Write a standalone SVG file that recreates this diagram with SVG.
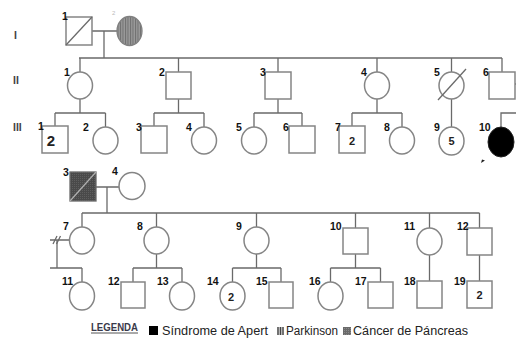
<svg xmlns="http://www.w3.org/2000/svg" width="516" height="338" viewBox="0 0 516 338">
<defs>
<pattern id="vstripe" width="2.5" height="4" patternUnits="userSpaceOnUse">
<rect width="2.5" height="4" fill="#9a9a9a"/>
<rect width="1" height="4" fill="#6e6e6e"/>
</pattern>
<pattern id="dots" width="2" height="2" patternUnits="userSpaceOnUse">
<rect width="2" height="2" fill="#4a4a4a"/>
<rect width="1" height="1" fill="#5e5e5e"/>
</pattern>
<pattern id="ldots" width="2" height="2" patternUnits="userSpaceOnUse">
<rect width="2" height="2" fill="#6a6a6a"/>
<rect width="1" height="1" fill="#8a8a8a"/>
</pattern>
</defs>
<style>
.ln{stroke:#6a6a6a;stroke-width:1.3;fill:none}
.sh{stroke:#858585;stroke-width:1.5;fill:#fff}
.num{font-family:"Liberation Sans",Arial,sans-serif;font-weight:bold;font-size:10.5px;fill:#111}
.in{font-family:"Liberation Sans",Arial,sans-serif;font-weight:bold;font-size:11px;fill:#222;text-anchor:middle}
.gen{font-family:"Liberation Sans",Arial,sans-serif;font-weight:bold;font-size:10.5px;fill:#444}
.leg{font-family:"Liberation Sans",Arial,sans-serif;font-size:12.5px;fill:#222}
</style>
<rect width="516" height="338" fill="#fff"/>

<g id="gen-labels">
<text class="gen" x="14" y="39">I</text>
<text class="gen" x="13" y="84">II</text>
<text class="gen" x="13" y="131">III</text>
</g>

<g id="connectors">
<path class="ln" d="M92,31H117 M104,31V58 M79,58H502"/>
<path class="ln" d="M80,58V72 M178.5,58V72 M278,58V72 M377,58V72 M451.5,58V72 M502,58V72"/>
<path class="ln" d="M515,84H516"/>
<path class="ln" d="M80,99V113 M55,113H105.5 M55,113V126 M105.5,113V127"/>
<path class="ln" d="M178.5,99V113 M154,113H204 M154,113V126 M204,113V127"/>
<path class="ln" d="M278,99V113 M254,113H302 M254,113V127 M302,113V126"/>
<path class="ln" d="M377,99V113 M352,113H402 M352,113V126 M402,113V127"/>
<path class="ln" d="M451.5,99V127"/>
<path class="ln" d="M501,127V113H516"/>
<path class="ln" d="M96,187H119 M107,187V213 M82,213H479.5"/>
<path class="ln" d="M82,213V227 M156.5,213V227 M256.5,213V227 M355.5,213V228 M429.5,213V228 M479.5,213V228"/>
<path class="ln" d="M50,240H69 M57,240V268 M50,268H82 M82,268V282"/>
<path class="ln" d="M53,244L57,236 M56.5,244L60.5,236"/>
<path class="ln" d="M156.5,254V268 M133,268H182 M133,268V282 M182,268V282"/>
<path class="ln" d="M256.5,254V268 M232.5,268H281 M232.5,268V282 M281,268V282"/>
<path class="ln" d="M355.5,254V268 M330.5,268H380.5 M330.5,268V282 M380.5,268V282"/>
<path class="ln" d="M429.5,255V281"/>
<path class="ln" d="M479.5,255V281"/>
</g>

<g id="I-1"><rect class="sh" x="66" y="17" width="26" height="28"/><path class="ln" d="M66,45L92,17"/><text class="num" x="62" y="20">1</text></g>
<g id="I-2"><ellipse cx="129.5" cy="31" rx="12.5" ry="14.5" fill="url(#vstripe)" stroke="#808080" stroke-width="1.3"/><text x="112" y="15" font-family="Liberation Sans, sans-serif" font-size="6" fill="#bbb">2</text></g>

<g id="II-1"><ellipse class="sh" cx="80" cy="85.5" rx="12.5" ry="13.5"/><text class="num" x="64" y="76">1</text></g>
<g id="II-2"><rect class="sh" x="166" y="72" width="25" height="27"/><text class="num" x="159" y="76">2</text></g>
<g id="II-3"><rect class="sh" x="265" y="72" width="26" height="27"/><text class="num" x="260" y="76">3</text></g>
<g id="II-4"><ellipse class="sh" cx="377" cy="85.5" rx="12.5" ry="13.5"/><text class="num" x="361" y="76">4</text></g>
<g id="II-5"><ellipse class="sh" cx="451.5" cy="85.5" rx="12.5" ry="13.5"/><path class="ln" d="M438,100L466,69"/><text class="num" x="434" y="76">5</text></g>
<g id="II-6"><rect class="sh" x="489" y="72" width="26" height="27"/><text class="num" x="483" y="76">6</text></g>

<g id="III-1"><rect class="sh" x="42" y="126" width="26" height="27"/><text class="num" x="38" y="130">1</text><text x="51" y="146" font-family="Liberation Sans, sans-serif" font-size="15" font-weight="bold" fill="#222" text-anchor="middle">2</text></g>
<g id="III-2"><ellipse class="sh" cx="105.5" cy="140.5" rx="12.5" ry="13.5"/><text class="num" x="83" y="131">2</text></g>
<g id="III-3"><rect class="sh" x="141" y="126" width="26" height="27"/><text class="num" x="136" y="131">3</text></g>
<g id="III-4"><ellipse class="sh" cx="204" cy="140.5" rx="12.5" ry="13.5"/><text class="num" x="186" y="131">4</text></g>
<g id="III-5"><ellipse class="sh" cx="254" cy="140.5" rx="12.5" ry="13.5"/><text class="num" x="236" y="131">5</text></g>
<g id="III-6"><rect class="sh" x="289" y="126" width="26" height="27"/><text class="num" x="283" y="131">6</text></g>
<g id="III-7"><rect class="sh" x="339" y="126" width="26" height="27"/><text class="num" x="335" y="131">7</text><text class="in" x="352" y="145">2</text></g>
<g id="III-8"><ellipse class="sh" cx="402" cy="140.5" rx="12.5" ry="13.5"/><text class="num" x="384" y="131">8</text></g>
<g id="III-9"><ellipse class="sh" cx="451.5" cy="141" rx="12.5" ry="14"/><text class="num" x="434" y="131">9</text><text class="in" x="451.5" y="145">5</text></g>
<g id="III-10"><ellipse cx="501" cy="142" rx="13" ry="15" fill="#000" stroke="#222" stroke-width="1"/><text class="num" x="479" y="131">10</text><path d="M481,163L482,159.5L485,160.5Z" fill="#222"/></g>

<g id="P-3"><rect x="70" y="172" width="26" height="29" fill="url(#dots)" stroke="#6a6a6a" stroke-width="1.3"/><path d="M70,201L96,172" stroke="#b0b0b0" stroke-width="1.2"/><text class="num" x="63" y="176">3</text></g>
<g id="P-4"><ellipse class="sh" cx="132" cy="186" rx="13" ry="13.5"/><text class="num" x="112" y="175">4</text></g>

<g id="C-7"><ellipse class="sh" cx="82" cy="240.5" rx="12.5" ry="13.5"/><text class="num" x="63" y="230">7</text></g>
<g id="C-8"><ellipse class="sh" cx="156.5" cy="240.5" rx="12.5" ry="13.5"/><text class="num" x="137" y="230">8</text></g>
<g id="C-9"><ellipse class="sh" cx="256.5" cy="240.5" rx="12.5" ry="13.5"/><text class="num" x="236" y="230">9</text></g>
<g id="C-10"><rect class="sh" x="343" y="228" width="25" height="26"/><text class="num" x="330" y="230">10</text></g>
<g id="C-11"><ellipse class="sh" cx="429.5" cy="241.5" rx="12.5" ry="13.5"/><text class="num" x="404" y="230">11</text></g>
<g id="C-12"><rect class="sh" x="467" y="228" width="25" height="27"/><text class="num" x="457" y="230">12</text></g>

<g id="D-11"><ellipse class="sh" cx="82" cy="296" rx="12.5" ry="14"/><text class="num" x="62" y="285">11</text></g>
<g id="D-12"><rect class="sh" x="121" y="282" width="24" height="26"/><text class="num" x="108" y="285">12</text></g>
<g id="D-13"><ellipse class="sh" cx="182" cy="296" rx="12.5" ry="14"/><text class="num" x="157" y="285">13</text></g>
<g id="D-14"><ellipse class="sh" cx="232.5" cy="296" rx="12.5" ry="14"/><text class="num" x="207" y="285">14</text><text class="in" x="231" y="301">2</text></g>
<g id="D-15"><rect class="sh" x="269" y="282" width="24" height="26"/><text class="num" x="256" y="285">15</text></g>
<g id="D-16"><ellipse class="sh" cx="330.5" cy="296" rx="12.5" ry="14"/><text class="num" x="309" y="285">16</text></g>
<g id="D-17"><rect class="sh" x="368" y="282" width="25" height="26"/><text class="num" x="355" y="285">17</text></g>
<g id="D-18"><rect class="sh" x="417" y="281" width="25" height="27"/><text class="num" x="404" y="285">18</text></g>
<g id="D-19"><rect class="sh" x="467" y="281" width="25" height="27"/><text class="num" x="454" y="285">19</text><text class="in" x="479.5" y="299">2</text></g>

<g id="legend">
<text x="91" y="331" font-family="Liberation Sans, sans-serif" font-weight="bold" font-size="10" fill="#3a3a4a" textLength="47" lengthAdjust="spacingAndGlyphs">LEGENDA</text>
<line x1="91" y1="333" x2="138" y2="333" stroke="#555" stroke-width="1"/>
<rect x="149" y="326" width="9" height="9" fill="#000"/>
<text class="leg" x="162" y="335" textLength="106" lengthAdjust="spacingAndGlyphs">Síndrome de Apert</text>
<rect x="277" y="327" width="7" height="8" fill="#ccc"/>
<path d="M278,327V335 M280.5,327V335 M283,327V335" stroke="#444" stroke-width="1.3"/>
<text class="leg" x="286" y="335" textLength="52" lengthAdjust="spacingAndGlyphs">Parkinson</text>
<rect x="343" y="327" width="8" height="8" fill="url(#ldots)"/>
<text class="leg" x="353" y="335" textLength="115" lengthAdjust="spacingAndGlyphs">Cáncer de Páncreas</text>
</g>
</svg>
